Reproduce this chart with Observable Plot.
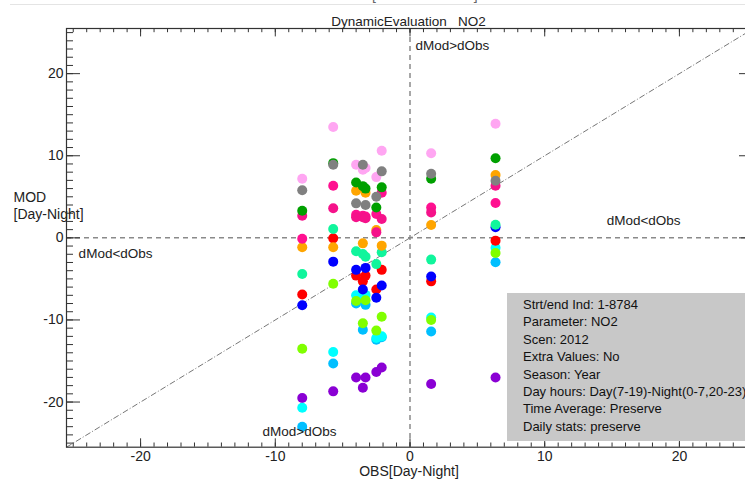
<!DOCTYPE html>
<html>
<head>
<meta charset="utf-8">
<script src="https://cdn.jsdelivr.net/npm/d3@7"></script>
<script src="https://cdn.jsdelivr.net/npm/@observablehq/plot@0.6"></script>
<style>
  html, body { margin: 0; padding: 0; background: #fff; }
  #wrap { position: relative; width: 745px; height: 481px; overflow: hidden; font-family: "Liberation Sans", Arial, sans-serif; }
  #wrap svg { max-width: none !important; }
  #topline { position: absolute; left: 10px; top: 4px; width: 740px; height: 1px; background: #e4e4e4; }
  #cut { position: absolute; left: 0; width: 820px; top: -13px; text-align: center; font-size: 14px; color: #666; }
  #info { position: absolute; left: 507px; top: 293px; width: 260px; height: 148px; background: #c8c8c8; box-sizing: border-box; padding: 3px 0 0 16px; font-size: 13px; color: #111; line-height: 17.4px; }
</style>
</head>
<body>
<div id="wrap">
  <div id="cut">OBS[Summer-Winter]</div>
  <div id="topline"></div>
</div>
<script>
// ---- data ----
const obsX = [-8.0, -5.7, -4.0, -3.5, -3.3, -2.5, -2.1, 1.57, 6.35];

const pinkVals        = [7.2, 13.5, 8.9, 8.3, 8.5, 7.4, 10.6, 10.3, 13.9];
const purpleVals      = [-19.5, -18.7, -17.0, -18.25, -17.0, -16.35, -15.8, -17.8, -17.0];
const deepskyblueVals = [-23.0, -15.3, -8.0, -11.2, -8.16, -12.4, -12.1, -11.4, -2.98];
const cyanVals        = [-20.7, -13.9, -7.0, -7.2, -6.95, -12.2, -12.0, -9.7, -1.2];
const lawngreenVals   = [-13.5, -5.6, -7.7, -10.4, -7.6, -11.3, -9.6, -10.0, -1.84];
const redVals         = [-6.9, -0.06, -4.6, -5.3, -4.6, -6.3, -3.9, -5.3, -0.34];
const blueVals        = [-8.2, -2.9, -3.9, -6.3, -3.66, -7.3, -5.8, -4.7, 1.3];
const springgreenVals = [-4.4, 1.08, -1.64, -1.96, -2.3, -3.2, -1.76, -2.65, 1.6];
const orangeVals      = [-1.15, -1.15, 5.74, -0.67, 5.5, 0.96, -0.95, 1.57, 7.65];
const deeppinkVals    = [-0.1, 6.35, 2.8, 2.7, 2.6, 2.9, 5.5, 3.7, 4.24];
const deeppink2Vals   = [2.7, 3.6, 2.5, 2.5, 2.4, 0.67, 2.3, 3.1, 6.35];
const greenVals       = [3.3, 9.1, 6.75, 6.3, 6.0, 3.7, 6.15, 7.2, 9.7];
const grayVals        = [5.8, 8.9, 4.2, 8.9, 4.0, 5.0, 8.1, 7.8, 6.95];

const seriesNames  = ["pink","purple","deepskyblue","cyan","lawngreen","red","blue","springgreen","orange","deeppink","deeppink2","green","gray"];
const seriesColors = ["#ffa6f2","#8a00d4","#00bfff","#00ffff","#80ff00","#ff0000","#0000ff","#10f59c","#ffa500","#ff1090","#f5128a","#00a000","#808080"];
const seriesValues = [pinkVals, purpleVals, deepskyblueVals, cyanVals, lawngreenVals, redVals, blueVals, springgreenVals, orangeVals, deeppinkVals, deeppink2Vals, greenVals, grayVals];

const xMajorTicks = [-20, -10, 0, 10, 20];
const yMajorTicks = [-20, -10, 0, 10, 20];

const titleText = "DynamicEvaluation\u00a0\u00a0\u00a0NO2";
const xLabel = "OBS[Day-Night]";
const yLabel1 = "MOD";
const yLabel2 = "[Day-Night]";
const infoLines = [
  "Strt/end Ind: 1-8784",
  "Parameter: NO2",
  "Scen: 2012",
  "Extra Values: No",
  "Season: Year",
  "Day hours: Day(7-19)-Night(0-7,20-23)",
  "Time Average: Preserve",
  "Daily stats: preserve"
];

// ---- build table ----
const points = [];
seriesNames.forEach((name, i) => {
  seriesValues[i].forEach((v, j) => {
    if (v != null) points.push({series: name, obs: obsX[j], mod: v});
  });
});

// ---- layout ----
const W = 760, H = 481;
const mL = 66, mR = 7, mT = 28, mB = 34.3;
const FW = W - mL - mR, FH = H - mT - mB;
const dom = [-25.5, 25.5];
const xMinor = d3.range(-25, 26, 1);
const yMinor = d3.range(-25, 26, 1);
const axisColor = "#333";
const font = "'Liberation Sans', Arial, sans-serif";

const chart = Plot.plot({
  width: W, height: H,
  marginLeft: mL, marginRight: mR, marginTop: mT, marginBottom: mB,
  style: {fontFamily: font, background: "transparent", overflow: "visible"},
  x: {domain: dom, axis: null},
  y: {domain: dom, axis: null},
  color: {domain: seriesNames, range: seriesColors, legend: false},
  marks: [
    // reference lines
    Plot.ruleX([0], {stroke: "#8a8a8a", strokeWidth: 1.5, strokeDasharray: "5,4"}),
    Plot.ruleY([0], {stroke: "#8a8a8a", strokeWidth: 1.5, strokeDasharray: "5,4"}),
    Plot.link([dom], {x1: d => d[0], y1: d => d[0], x2: d => d[1], y2: d => d[1], stroke: "#777", strokeWidth: 1, strokeDasharray: "6,2,1,2"}),
    // points
    Plot.dot(points, {x: "obs", y: "mod", fill: "series", r: 5, stroke: "none"}),
    // quadrant labels
    Plot.text(["dMod>dObs"], {x: 0.4, y: 23.4, text: d => d, textAnchor: "start", fontSize: 13.5, fill: "#222"}),
    Plot.text(["dMod<dObs"], {x: 14.6, y: 2.1, text: d => d, textAnchor: "start", fontSize: 13.5, fill: "#222"}),
    Plot.text(["dMod<dObs"], {x: -24.6, y: -1.9, text: d => d, textAnchor: "start", fontSize: 13.5, fill: "#222"}),
    Plot.text(["dMod>dObs"], {x: -10.95, y: -23.6, text: d => d, textAnchor: "start", fontSize: 13.5, fill: "#222"}),
    // frame
    Plot.frame({stroke: axisColor, strokeWidth: 1.2}),
    // bottom ticks (inward)
    Plot.tickX(xMinor, {x: d => d, insetTop: FH - 4.2, stroke: axisColor}),
    Plot.tickX(xMajorTicks, {x: d => d, insetTop: FH - 8.4, stroke: axisColor}),
    // top ticks
    Plot.tickX(xMinor, {x: d => d, insetBottom: FH - 4.2, stroke: axisColor}),
    Plot.tickX(xMajorTicks, {x: d => d, insetBottom: FH - 8.4, stroke: axisColor}),
    // left ticks
    Plot.tickY(yMinor, {y: d => d, insetRight: FW - 7, stroke: axisColor}),
    Plot.tickY(yMajorTicks, {y: d => d, insetRight: FW - 14, stroke: axisColor}),
    // right ticks
    Plot.tickY(yMinor, {y: d => d, insetLeft: FW - 7, stroke: axisColor}),
    Plot.tickY(yMajorTicks, {y: d => d, insetLeft: FW - 14, stroke: axisColor}),
    // tick labels
    Plot.text(xMajorTicks, {x: d => d, frameAnchor: "bottom", dy: 14, text: d => String(d), fontSize: 14, fill: "#222"}),
    Plot.text(yMajorTicks, {y: d => d, frameAnchor: "left", dx: -3, textAnchor: "end", text: d => String(d), fontSize: 14, fill: "#222"}),
    // axis labels & title
    Plot.text([xLabel], {frameAnchor: "bottom", dx: -1, dy: 28.5, text: d => d, fontSize: 14, fill: "#222"}),
    Plot.text([yLabel1], {frameAnchor: "left", dx: -53, dy: -40.5, textAnchor: "start", text: d => d, fontSize: 14, fill: "#222"}),
    Plot.text([yLabel2], {frameAnchor: "left", dx: -53, dy: -23.5, textAnchor: "start", text: d => d, fontSize: 14, fill: "#222"}),
    Plot.text([titleText], {frameAnchor: "top", dx: -1.5, dy: -12, text: d => d, fontSize: 13.5, fill: "#222"})
  ]
});

const wrap = document.getElementById("wrap");
chart.style.position = "absolute";
chart.style.left = "0px";
chart.style.top = "0px";
chart.style.maxWidth = "none";
chart.setAttribute("width", W);
chart.setAttribute("height", H);
wrap.appendChild(chart);

const info = document.createElement("div");
info.id = "info";
infoLines.forEach(t => {
  const line = document.createElement("div");
  line.textContent = t;
  info.appendChild(line);
});
wrap.appendChild(info);
</script>
</body>
</html>
